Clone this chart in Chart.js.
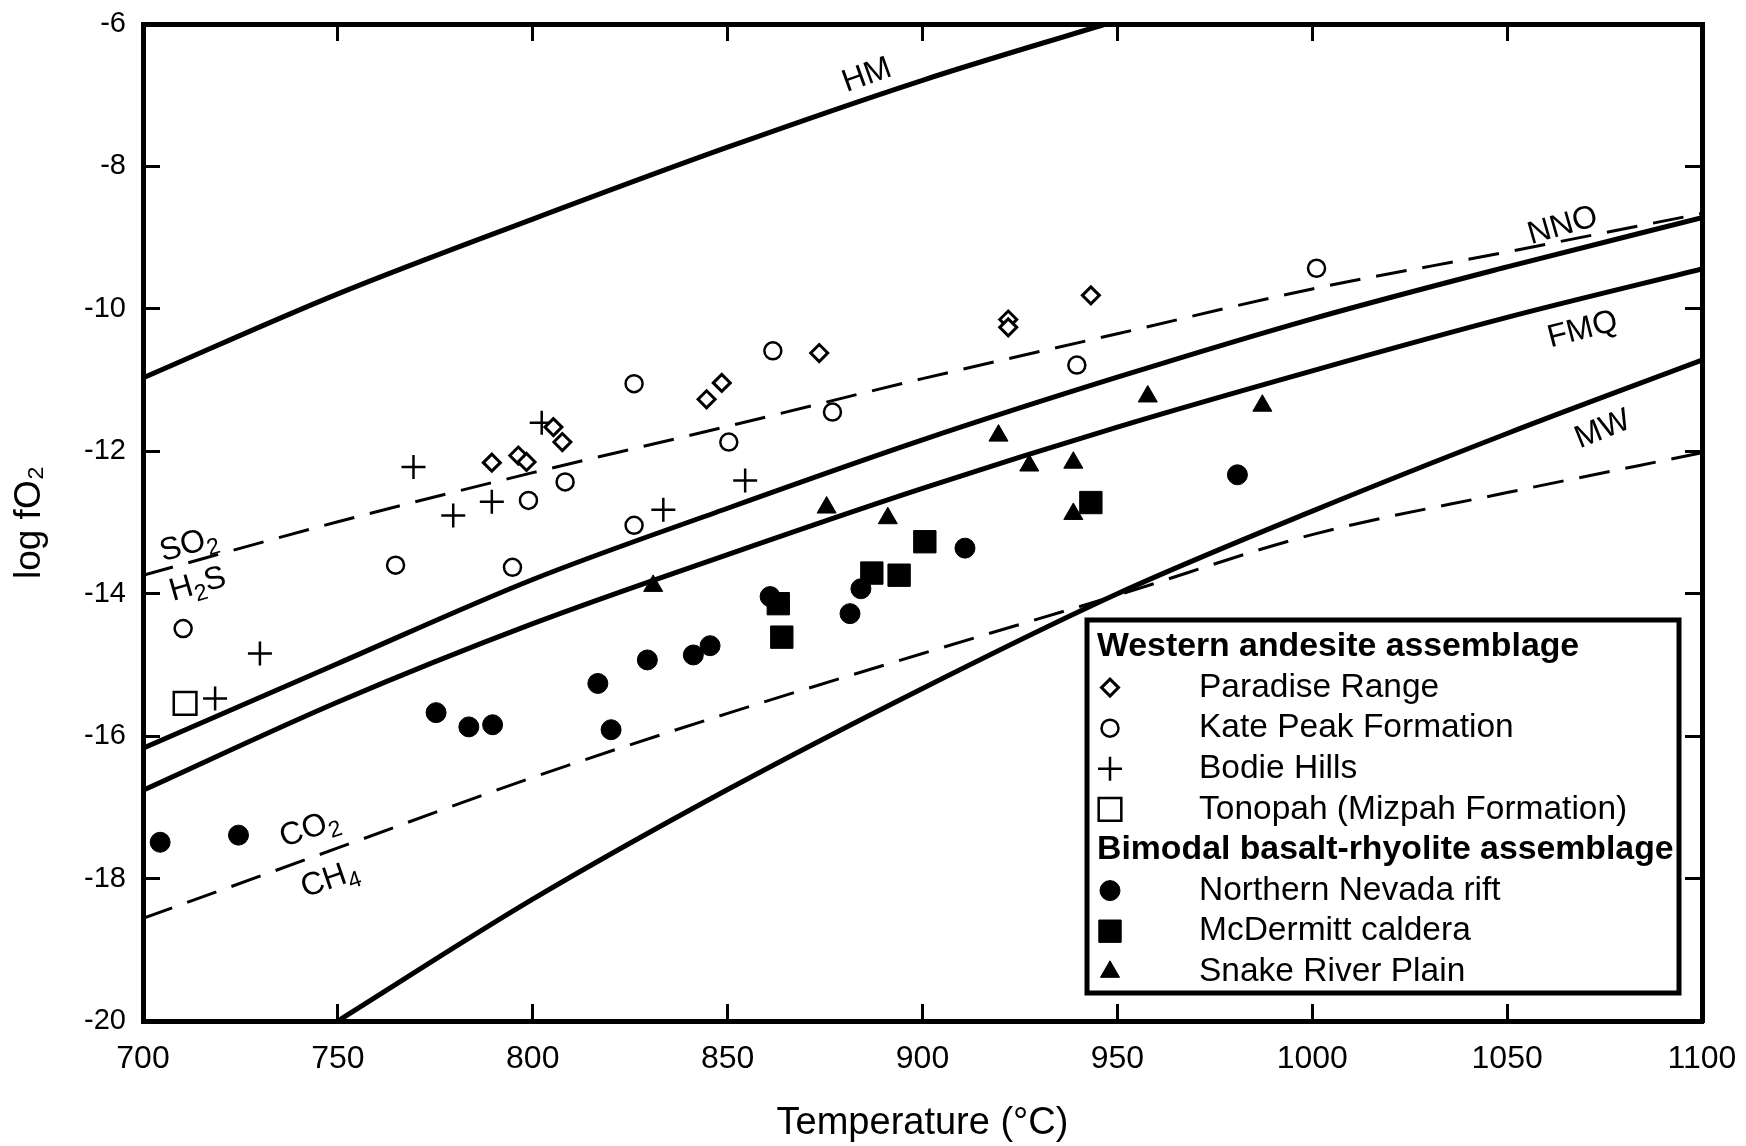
<!DOCTYPE html>
<html>
<head>
<meta charset="utf-8">
<title>log fO2 vs temperature</title>
<script src="https://cdn.jsdelivr.net/npm/chart.js@4.4.1/dist/chart.umd.min.js"></script>
<style>
  html, body { margin: 0; padding: 0; background: #fff; }
  #wrap { width: 1746px; height: 1146px; position: relative; }
</style>
</head>
<body>
<div id="wrap"><canvas id="fo2Chart"></canvas></div>
<script>
// axis ticks
var xTickValues = [700, 750, 800, 850, 900, 950, 1000, 1050, 1100];
var yTickValues = [-20, -18, -16, -14, -12, -10, -8, -6];

// buffer curves, every 50 °C
var tempGrid = [700, 750, 800, 850, 900, 950, 1000, 1050, 1100];
var hmTemp = [700, 750, 800, 850, 900, 947];
var hmLog = [-10.97, -9.79, -8.74, -7.73, -6.79, -6.0];
var nnoLog = [-16.17, -14.98, -13.80, -12.80, -11.84, -10.96, -10.14, -9.41, -8.72];
var fmqLog = [-16.76, -15.52, -14.42, -13.45, -12.52, -11.66, -10.87, -10.12, -9.44];
var mwTemp = [750, 800, 850, 900, 950, 1000, 1050, 1100];
var mwLog = [-20.0, -18.29, -16.75, -15.33, -14.0, -12.84, -11.75, -10.72];
var so2Log = [-13.74, -12.99, -12.30, -11.65, -10.98, -10.35, -9.72, -9.20, -8.66];
var co2Log = [-18.56, -17.57, -16.58, -15.68, -14.84, -14.02, -13.17, -12.58, -12.02];

// samples: western andesite assemblage
var paradiseTemp = [789.5, 796.3, 798.4, 805.3, 807.6, 844.6, 848.5, 873.5, 922.0, 922.0, 943.2];
var paradiseLog = [-12.16, -12.06, -12.15, -11.66, -11.87, -11.27, -11.04, -10.62, -10.15, -10.26, -9.81];
var kateTemp = [710.3, 764.8, 794.8, 798.9, 808.3, 826.0, 826.0, 850.3, 861.6, 876.9, 939.6, 1001.1];
var kateLog = [-14.49, -13.60, -13.63, -12.69, -12.43, -11.05, -13.04, -11.87, -10.59, -11.45, -10.79, -9.43];
var bodieTemp = [718.5, 730.0, 769.4, 779.6, 789.5, 802.3, 833.5, 854.5];
var bodieLog = [-15.47, -14.84, -12.22, -12.90, -12.71, -11.60, -12.82, -12.41];
var tonopahTemp = [710.8];
var tonopahLog = [-15.54];

// samples: bimodal basalt-rhyolite assemblage
var nnrTemp = [704.4, 724.5, 775.2, 783.6, 789.7, 816.7, 820.1, 829.4, 841.2, 845.5, 860.9, 881.4, 884.2, 910.9, 980.8];
var nnrLog = [-17.49, -17.39, -15.67, -15.87, -15.84, -15.26, -15.91, -14.93, -14.86, -14.73, -14.04, -14.28, -13.93, -13.36, -12.33];
var mcdTemp = [863.0, 863.9, 887.0, 894.0, 900.6, 943.2];
var mcdLog = [-14.14, -14.61, -13.71, -13.74, -13.27, -12.72];
var snakeTemp = [830.9, 875.4, 891.1, 919.5, 927.4, 938.7, 938.7, 957.8, 987.2];
var snakeLog = [-13.89, -12.79, -12.94, -11.78, -12.20, -12.16, -12.88, -11.23, -11.36];

var black = '#000';
var white = '#fff';
var fontFam = "'Liberation Sans', Arial, Helvetica, sans-serif";
Chart.defaults.font.family = fontFam;
Chart.defaults.color = black;

function pts(xs, ys) {
    return xs.map(function(x, i) { return { x: x, y: ys[i] }; });
}

function markers(label, xs, ys, style, radius, fill, bw) {
    return {
        label: label,
        data: pts(xs, ys),
        pointStyle: style,
        pointRadius: radius,
        pointHoverRadius: radius,
        pointBackgroundColor: fill,
        pointBorderColor: black,
        pointBorderWidth: bw,
        showLine: false
    };
}

function buffer(label, xs, ys, dashed) {
    return {
        label: label,
        data: pts(xs, ys),
        showLine: true,
        borderColor: black,
        borderWidth: dashed ? 3 : 5,
        borderDash: dashed ? [31, 16] : [],
        cubicInterpolationMode: 'monotone',
        pointRadius: 0,
        fill: false
    };
}

// first dataset is drawn last, so markers go first
var datasets = [
    markers('Paradise Range', paradiseTemp, paradiseLog, 'rectRot', 8.5, white, 3),
    markers('Kate Peak Formation', kateTemp, kateLog, 'circle', 8.5, white, 2.5),
    markers('Bodie Hills', bodieTemp, bodieLog, 'cross', 12, black, 2.5),
    markers('Tonopah (Mizpah Formation)', tonopahTemp, tonopahLog, 'rect', 16, white, 2.5),
    markers('Northern Nevada rift', nnrTemp, nnrLog, 'circle', 10, black, 1),
    markers('McDermitt caldera', mcdTemp, mcdLog, 'rect', 15.8, black, 1),
    markers('Snake River Plain', snakeTemp, snakeLog, 'triangle', 11, black, 1),
    buffer('HM', hmTemp, hmLog, false),
    buffer('NNO', tempGrid, nnoLog, false),
    buffer('FMQ', tempGrid, fmqLog, false),
    buffer('MW', mwTemp, mwLog, false),
    buffer('SO2/H2S', tempGrid, so2Log, true),
    buffer('CO2/CH4', tempGrid, co2Log, true)
];

// curve names, anchored in data units: [parts, temp, log, angle]
var curveLabels = [
    [[['HM', 0]], 885.5, -6.69, -19.6],
    [[['NNO', 0]], 1064.1, -8.80, -16],
    [[['FMQ', 0]], 1069.2, -10.26, -14.5],
    [[['MW', 0]], 1074.3, -11.66, -22],
    [[['SO', 0], ['2', 1]], 711.8, -13.32, -16],
    [[['H', 0], ['2', 1], ['S', 0]], 714.1, -13.88, -16],
    [[['CO', 0], ['2', 1]], 742.8, -17.31, -19],
    [[['CH', 0], ['4', 1]], 748.0, -18.02, -19]
];

var legendRows = [
    { header: 'Western andesite assemblage' },
    { ds: 0 }, { ds: 1 }, { ds: 2 }, { ds: 3 },
    { header: 'Bimodal basalt-rhyolite assemblage' },
    { ds: 4 }, { ds: 5 }, { ds: 6 }
];

function drawRich(ctx, parts, cx, cy, angle, size) {
    var subSize = Math.round(size * 0.72);
    var hasSub = false;
    var widths = parts.map(function(p) {
        if (p[1]) hasSub = true;
        ctx.font = (p[1] ? subSize : size) + 'px ' + fontFam;
        return ctx.measureText(p[0]).width;
    });
    var total = widths.reduce(function(a, b) { return a + b; }, 0);
    var base = size * 0.36 - (hasSub ? size * 0.1 : 0);
    ctx.save();
    ctx.translate(cx, cy);
    ctx.rotate(angle * Math.PI / 180);
    ctx.textAlign = 'left';
    ctx.textBaseline = 'alphabetic';
    ctx.fillStyle = black;
    var x = -total / 2;
    parts.forEach(function(p, i) {
        ctx.font = (p[1] ? subSize : size) + 'px ' + fontFam;
        ctx.fillText(p[0], x, base + (p[1] ? size * 0.22 : 0));
        x += widths[i];
    });
    ctx.restore();
}

var decorPlugin = {
    id: 'fo2Decor',
    afterDraw: function(chart) {
        var ctx = chart.ctx;
        var xs = chart.scales.x, ys = chart.scales.y;

        curveLabels.forEach(function(l) {
            drawRich(ctx, l[0], xs.getPixelForValue(l[1]), ys.getPixelForValue(l[2]), l[3], 32);
        });

        // legend box in the lower right
        var a = chart.chartArea;
        var bx = a.right - 615, by = a.bottom - 401, bw = 592, bh = 373;
        ctx.save();
        ctx.fillStyle = white;
        ctx.fillRect(bx, by, bw, bh);
        ctx.lineWidth = 5;
        ctx.strokeStyle = black;
        ctx.strokeRect(bx, by, bw, bh);
        ctx.textBaseline = 'middle';
        ctx.textAlign = 'left';
        legendRows.forEach(function(row, i) {
            var y = by + 27 + i * 40.6;
            ctx.fillStyle = black;
            if (row.header) {
                ctx.font = 'bold 33.8px ' + fontFam;
                ctx.fillText(row.header, bx + 10, y);
                return;
            }
            var ds = chart.data.datasets[row.ds];
            ctx.font = '33.5px ' + fontFam;
            ctx.fillText(ds.label, bx + 112, y);
            ctx.save();
            ctx.fillStyle = ds.pointBackgroundColor;
            ctx.strokeStyle = ds.pointBorderColor;
            ctx.lineWidth = ds.pointBorderWidth;
            Chart.helpers.drawPoint(ctx, {
                pointStyle: ds.pointStyle,
                radius: ds.pointRadius,
                rotation: 0,
                borderWidth: ds.pointBorderWidth
            }, bx + 23, y);
            ctx.restore();
        });
        ctx.restore();
    }
};

function fixTicks(values) {
    return function(scale) {
        scale.ticks = values.map(function(v) { return { value: v }; });
    };
}

// fixed axis sizes; the tick padding must not leak into the chart-area padding
function fixSize(size) {
    return function(s) {
        if (s.isHorizontal()) s.height = size; else s.width = size;
        s.paddingTop = 0; s.paddingBottom = 0; s.paddingLeft = 0; s.paddingRight = 0;
    };
}

// inward tick marks on all four sides
var tickGrid = { drawOnChartArea: false, drawTicks: true, tickLength: -17, tickWidth: 3, tickColor: black };
var frameBorder = { display: true, width: 5, color: black };

var ctx = document.getElementById('fo2Chart').getContext('2d');
var fo2Chart = new Chart(ctx, {
    type: 'scatter',
    data: { datasets: datasets },
    options: {
        responsive: true,
        maintainAspectRatio: false,
        animation: false,
        events: [],
        layout: { padding: 0, autoPadding: false },
        plugins: {
            legend: { display: false },
            tooltip: { enabled: false }
        },
        scales: {
            x: {
                type: 'linear', position: 'bottom', min: 700, max: 1100,
                afterBuildTicks: fixTicks(xTickValues),
                afterFit: fixSize(125),
                ticks: {
                    font: { size: 32 }, color: black, padding: 36, maxRotation: 0, autoSkip: false,
                    callback: function(v) { return String(v); }
                },
                grid: tickGrid,
                border: frameBorder,
                title: { display: true, text: 'Temperature (°C)', font: { size: 38 }, color: black, padding: { top: 0, bottom: 0 } }
            },
            xTop: {
                type: 'linear', position: 'top', min: 700, max: 1100,
                afterBuildTicks: fixTicks(xTickValues),
                afterFit: fixSize(24),
                ticks: { display: false },
                grid: tickGrid,
                border: frameBorder
            },
            y: {
                type: 'linear', position: 'left', min: -20, max: -6,
                afterBuildTicks: fixTicks(yTickValues),
                afterFit: fixSize(143),
                ticks: {
                    font: { size: 29 }, color: black, padding: 34, autoSkip: false,
                    callback: function(v) { return String(v); }
                },
                grid: tickGrid,
                border: frameBorder,
                title: { display: true, text: 'log fO₂', font: { size: 37 }, color: black, padding: { top: 8, bottom: 0 } }
            },
            yRight: {
                type: 'linear', position: 'right', min: -20, max: -6,
                afterBuildTicks: fixTicks(yTickValues),
                afterFit: fixSize(44),
                ticks: { display: false },
                grid: tickGrid,
                border: frameBorder
            }
        }
    },
    plugins: [decorPlugin]
});
</script>
</body>
</html>
